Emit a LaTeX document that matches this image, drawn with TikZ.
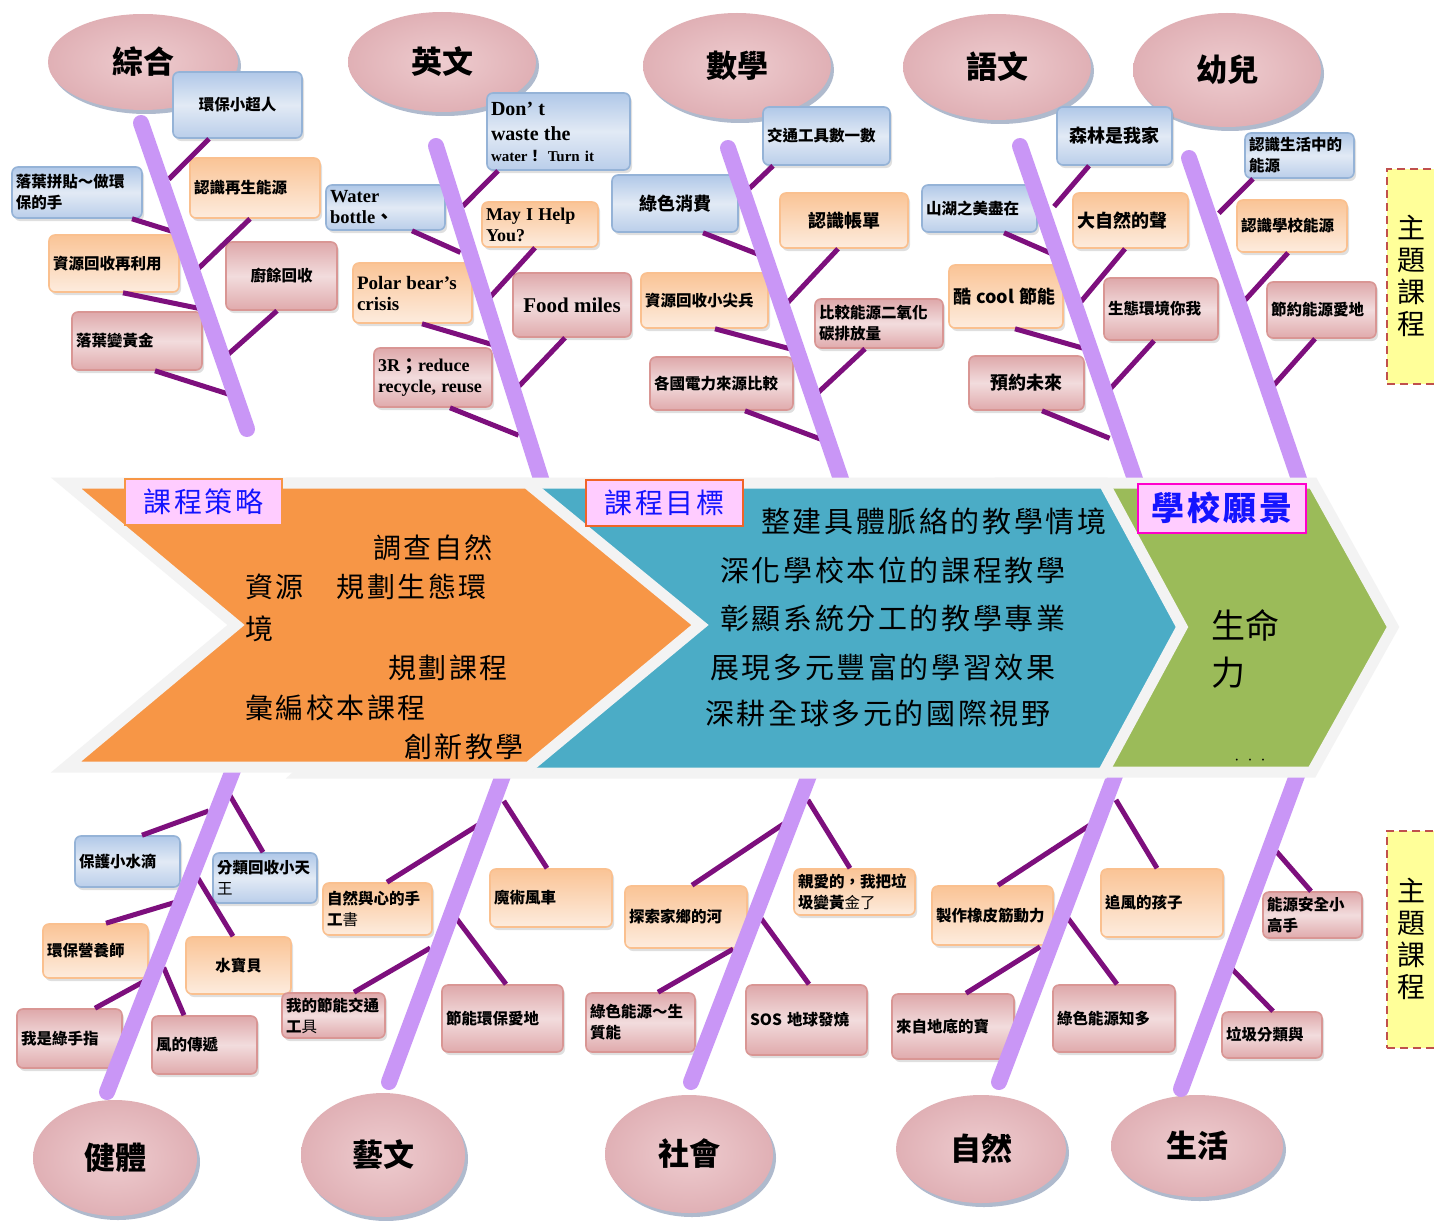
\documentclass[tikz,border=0pt]{standalone}
\usepackage{fontspec}
\setmainfont{Noto Sans CJK TC}
\newfontfamily\cjk{Noto Sans CJK TC}
\newfontfamily\cjkls[LetterSpace=9]{Noto Sans CJK TC}
\newfontfamily\lat{Liberation Serif}
\usetikzlibrary{shapes.geometric,shadows}
\definecolor{bonec}{RGB}{201,150,246}
\definecolor{connc}{RGB}{125,15,125}
\definecolor{ellc1}{RGB}{238,204,207}
\definecolor{ellc2}{RGB}{224,176,181}
\definecolor{shadc}{RGB}{110,130,165}
\definecolor{bborder}{RGB}{149,179,215}
\definecolor{btop}{RGB}{176,200,232}
\definecolor{bmid}{RGB}{226,234,245}
\definecolor{bbot}{RGB}{186,206,234}
\definecolor{oborder}{RGB}{250,192,143}
\definecolor{otop}{RGB}{250,196,150}
\definecolor{obot}{RGB}{253,236,222}
\definecolor{pborder}{RGB}{217,150,148}
\definecolor{ptop}{RGB}{222,168,170}
\definecolor{pmid}{RGB}{242,220,221}
\definecolor{pbot}{RGB}{224,170,172}
\definecolor{chor}{RGB}{247,150,70}
\definecolor{chbl}{RGB}{75,172,198}
\definecolor{chgr}{RGB}{155,187,89}
\definecolor{chbd}{RGB}{243,243,243}
\definecolor{labpink}{RGB}{255,204,255}
\definecolor{labblue}{RGB}{20,20,255}
\definecolor{labor}{RGB}{247,150,70}
\definecolor{labor2}{RGB}{240,100,40}
\definecolor{labmag}{RGB}{255,0,204}
\definecolor{yel}{RGB}{255,255,153}
\definecolor{dashred}{RGB}{192,80,77}

\newcommand\tbx[8]{%
  \pgfmathsetmacro\bxw{#5-#3}\pgfmathsetmacro\bxh{#6-#4}\pgfmathsetmacro\bxt{#5-#3-8}%
  \pgfmathsetmacro\bxx{(#3+#5)/2}\pgfmathsetmacro\bxy{(#4+#6)/2}%
  \node[#1, minimum width=\bxw pt, minimum height=\bxh pt, text width=\bxt pt, align=#7] (#2) at (\bxx,\bxy) {#8};}
\newcommand\conx[5]{\draw[conn] (#1.#2 -| #3,0) -- (#4,#5) coordinate (#1e);}

\begin{document}
\begin{tikzpicture}[x=1pt,y=-1pt,
  cat/.style={ellipse, inner sep=0pt, inner color=ellc1, outer color=ellc2,
    drop shadow={shadow xshift=3pt, shadow yshift=-4pt, fill=shadc, opacity=0.55},
    font=\cjk\bfseries\fontsize{31}{32}\selectfont},
  boxbase/.style={rectangle, rounded corners=6pt, line width=1.6pt, inner sep=3pt,
    font=\cjk\bfseries\fontsize{15.5}{21}\selectfont,
    drop shadow={shadow xshift=2pt, shadow yshift=-3pt, opacity=0.25}},
  bluebox/.style={boxbase, draw=bborder, top color=btop, bottom color=bbot, middle color=bmid},
  orangebox/.style={boxbase, draw=oborder, top color=otop, bottom color=obot},
  pinkbox/.style={boxbase, draw=pborder, top color=ptop, bottom color=pbot, middle color=pmid},
  conn/.style={draw=connc, line width=5pt, shorten >=-6pt},
  bone/.style={draw=bonec, line width=16pt, line cap=round},
  chev/.style={draw=chbd, line width=11pt, line join=miter,
    drop shadow={shadow xshift=3pt, shadow yshift=-4pt, opacity=0.18}},
  bigtxt/.style={anchor=west, inner sep=0pt, font=\cjkls\fontsize{28}{30}\selectfont},
  bigtxtb/.style={anchor=west, inner sep=0pt, font=\cjkls\fontsize{29}{30}\selectfont},
  lab/.style={fill=labpink, line width=2pt, text=labblue, inner sep=0pt,
    font=\cjkls\fontsize{28}{30}\selectfont},
  dbox/.style={fill=yel, draw=dashred, line width=2pt, dash pattern=on 8pt off 5pt, anchor=north west, inner sep=0pt},
  vtxt/.style={align=center, inner sep=0pt, font=\cjk\fontsize{28}{32}\selectfont}
]
\fill[white] (0,0) rectangle (1434,1220);
\useasboundingbox (0,0) rectangle (1434,1220);

% ---------- category ellipses ----------
\node[cat, minimum width=190pt, minimum height=96pt]  (e1) at (143,62)  {綜合};
\node[cat, minimum width=188pt, minimum height=100pt] (e2) at (442,62)  {英文};
\node[cat, minimum width=188pt, minimum height=106pt] (e3) at (737,66)  {數學};
\node[cat, minimum width=188pt, minimum height=106pt] (e4) at (997,67)  {語文};
\node[cat, minimum width=188pt, minimum height=114pt] (e5) at (1227,70) {幼兒};
\node[cat, minimum width=164pt, minimum height=116pt] (e6) at (115,1158) {健體};
\node[cat, minimum width=164pt, minimum height=124pt] (e7) at (383,1155) {藝文};
\node[cat, minimum width=168pt, minimum height=118pt] (e8) at (689,1154) {社會};
\node[cat, minimum width=170pt, minimum height=108pt] (e9) at (981,1149) {自然};
\node[cat, minimum width=172pt, minimum height=102pt] (e10) at (1197,1146) {生活};

% ---------- boxes: 綜合 ----------
\tbx{bluebox}{a1}{173}{72}{302}{138}{center}{環保小超人}
\tbx{bluebox}{a2}{12}{167}{142}{218}{left}{落葉拼貼～做環\\保的手}
\tbx{orangebox}{a3}{190}{158}{320}{218}{left}{認識再生能源}
\tbx{orangebox}{a4}{49}{235}{179}{292}{left}{資源回收再利用}
\tbx{pinkbox}{a5}{226}{242}{337}{310}{center}{廚餘回收}
\tbx{pinkbox}{a6}{72}{312}{202}{370}{left}{落葉變黃金}
% ---------- 英文 ----------
\tbx{bluebox}{b1}{487}{93}{630}{170}{left}{\lat\fontsize{20}{25}\selectfont Don’ t\\waste the\\\fontsize{15}{20}\selectfont water{\cjk ！} Turn it}
\tbx{bluebox}{b2}{326}{185}{445}{230}{left}{\lat\fontsize{18.5}{20}\selectfont Water\\bottle{\cjk 、}}
\tbx{orangebox}{b3}{482}{202}{598}{247}{left}{\lat\fontsize{18}{20}\selectfont May I Help\\You?}
\tbx{orangebox}{b4}{353}{263}{472}{323}{left}{\lat\fontsize{19}{22}\selectfont Polar bear’s\\crisis}
\tbx{pinkbox}{b5}{513}{273}{631}{337}{center}{\lat\fontsize{21}{22}\selectfont Food miles}
\tbx{pinkbox}{b6}{374}{348}{492}{407}{left}{\lat\fontsize{18}{22}\selectfont 3R{\cjk ；}reduce\\recycle, reuse}
% ---------- 數學 ----------
\tbx{bluebox}{c1}{763}{107}{890}{165}{left}{交通工具數一數}
\tbx{bluebox}{c2}{612}{175}{738}{232}{center}{\fontsize{18}{21}\selectfont 綠色消費}
\tbx{orangebox}{c3}{780}{193}{908}{248}{center}{\fontsize{18}{21}\selectfont 認識帳單}
\tbx{orangebox}{c4}{641}{273}{768}{328}{left}{資源回收小尖兵}
\tbx{pinkbox}{c5}{815}{299}{943}{348}{left}{比較能源二氧化\\碳排放量}
\tbx{pinkbox}{c6}{650}{357}{793}{410}{left}{各國電力來源比較}
% ---------- 語文 ----------
\tbx{bluebox}{d1}{1057}{107}{1172}{165}{center}{\fontsize{18}{21}\selectfont 森林是我家}
\tbx{bluebox}{d2}{922}{185}{1037}{232}{left}{山湖之美盡在}
\tbx{orangebox}{d3}{1073}{193}{1188}{248}{left}{\fontsize{18}{21}\selectfont 大自然的聲}
\tbx{orangebox}{d4}{949}{265}{1063}{328}{left}{\fontsize{18}{21}\selectfont 酷 cool 節能}
\tbx{pinkbox}{d5}{1104}{278}{1218}{340}{left}{生態環境你我}
\tbx{pinkbox}{d6}{969}{356}{1084}{410}{center}{\fontsize{18}{21}\selectfont 預約未來}
% ---------- 幼兒 ----------
\tbx{bluebox}{f1}{1245}{133}{1354}{178}{left}{認識生活中的\\能源}
\tbx{orangebox}{f2}{1237}{200}{1347}{252}{left}{認識學校能源}
\tbx{pinkbox}{f3}{1267}{282}{1376}{338}{left}{節約能源愛地}
% ---------- 健體 ----------
\tbx{bluebox}{g1}{75}{836}{180}{887}{left}{保護小水滴}
\tbx{bluebox}{g2}{213}{853}{317}{903}{left}{分類回收小天\\{\mdseries 王}}
\tbx{orangebox}{g3}{43}{924}{148}{978}{left}{環保營養師}
\tbx{orangebox}{g4}{186}{937}{291}{994}{center}{水寶貝}
\tbx{pinkbox}{g5}{17}{1009}{122}{1068}{left}{我是綠手指}
\tbx{pinkbox}{g6}{152}{1016}{257}{1074}{left}{風的傳遞}
% ---------- 藝文 ----------
\tbx{orangebox}{h1}{323}{883}{432}{935}{left}{自然與心的手\\工{\mdseries 書}}
\tbx{orangebox}{h2}{490}{869}{612}{927}{left}{魔術風車}
\tbx{pinkbox}{h3}{282}{993}{385}{1038}{left}{我的節能交通\\工{\mdseries 具}}
\tbx{pinkbox}{h4}{442}{985}{563}{1052}{left}{節能環保愛地}
% ---------- 社會 ----------
\tbx{orangebox}{i1}{625}{886}{747}{948}{left}{探索家鄉的河}
\tbx{orangebox}{i2}{794}{869}{915}{915}{left}{親愛的，我把垃\\圾變黃{\mdseries 金了}}
\tbx{pinkbox}{i3}{586}{993}{695}{1052}{left}{綠色能源～生\\質能}
\tbx{pinkbox}{i4}{746}{985}{867}{1055}{left}{SOS 地球發燒}
% ---------- 自然 ----------
\tbx{orangebox}{j1}{932}{886}{1053}{945}{left}{製作橡皮筋動力}
\tbx{orangebox}{j2}{1101}{869}{1223}{937}{left}{追風的孩子}
\tbx{pinkbox}{j3}{892}{994}{1014}{1059}{left}{來自地底的寶}
\tbx{pinkbox}{j4}{1053}{985}{1175}{1052}{left}{綠色能源知多}
% ---------- 生活 ----------
\tbx{pinkbox}{k1}{1263}{892}{1362}{938}{left}{能源安全小\\高手}
\tbx{pinkbox}{k2}{1222}{1012}{1322}{1058}{left}{垃圾分類與}

% ---------- connectors ----------
\conx{a1}{south}{209}{173}{175}
\conx{a2}{south}{132}{168}{230}
\conx{a3}{south}{250}{202}{265}
\conx{a4}{south}{123}{197}{308}
\conx{a5}{south}{277}{233}{350}
\conx{a6}{south}{155}{225}{393}
\conx{b1}{south}{498}{467}{202}
\conx{b2}{south}{412}{455}{250}
\conx{b3}{south}{535}{492}{295}
\conx{b4}{south}{422}{487}{343}
\conx{b5}{south}{565}{522}{383}
\conx{b6}{south}{450}{513}{433}
\conx{c1}{south}{773}{753}{185}
\conx{c2}{south}{703}{755}{253}
\conx{c3}{south}{838}{792}{298}
\conx{c4}{south}{715}{787}{348}
\conx{c5}{south}{865}{823}{388}
\conx{c6}{south}{745}{815}{437}
\conx{d1}{south}{1089}{1058}{202}
\conx{d2}{south}{1004}{1048}{252}
\conx{d3}{south}{1125}{1084}{298}
\conx{d4}{south}{1015}{1079}{347}
\conx{d5}{south}{1154}{1111}{388}
\conx{d6}{south}{1042}{1104}{436}
\conx{f1}{south}{1253}{1223}{209}
\conx{f2}{south}{1288}{1247}{298}
\conx{f3}{south}{1315}{1274}{385}
\conx{g1}{north}{142}{203}{813}
\conx{g2}{north}{263}{232}{799}
\conx{g3}{north}{106}{173}{903}
\conx{g4}{north}{233}{199}{880}
\conx{g5}{north}{95}{143}{982}
\conx{g6}{north}{184}{166}{973}
\conx{h1}{north}{387}{475}{827}
\conx{h2}{north}{547}{507}{806}
\conx{h3}{north}{354}{425}{951}
\conx{h4}{north}{506}{456}{918}
\conx{i1}{north}{692}{779}{827}
\conx{i2}{north}{850}{811}{805}
\conx{i3}{north}{658}{728}{952}
\conx{i4}{north}{809}{760}{917}
\conx{j1}{north}{998}{1087}{827}
\conx{j2}{north}{1157}{1119}{805}
\conx{j3}{north}{966}{1035}{950}
\conx{j4}{north}{1117}{1067}{917}
\conx{k1}{north}{1311}{1276}{851}
\conx{k2}{north}{1273}{1232}{969}

% ---------- bones ----------
\draw[bone] (141,123) -- (247,429);
\draw[bone] (436,146) -- (543,485);
\draw[bone] (728,148) -- (843,485);
\draw[bone] (1020,146) -- (1137,485);
\draw[bone] (1189,158) -- (1301,485);
\draw[bone] (107,1092) -- (235,765);
\draw[bone] (389,1082) -- (505,770);
\draw[bone] (691,1082) -- (811,770);
\draw[bone] (999,1082) -- (1117,770);
\draw[bone] (1181,1089) -- (1299,770);

% ---------- theme side boxes ----------
\node[dbox, minimum width=64pt, minimum height=215pt] (t1) at (1386,168) {};
\node[vtxt] (t1t) at (1411,276) {主\\題\\課\\程};
\node[dbox, minimum width=64pt, minimum height=217pt] (t2) at (1386,830) {};
\node[vtxt] (t2t) at (1411,939) {主\\題\\課\\程};

% ---------- chevrons ----------
\path[chev, fill=chgr] (1000,483) -- (1313,483) -- (1393,627) -- (1312,772) -- (1000,772) -- cycle;
\path[chev, fill=chbl] (300,483) -- (1104,483) -- (1182,627) -- (1103,773) -- (300,773) -- (460,627) -- cycle;
\path[chev, fill=chor] (66,483) -- (527,483) -- (700,625) -- (529,767) -- (66,767) -- (236,625) -- cycle;

\node[lab, draw=labor, minimum width=157pt, minimum height=46pt] (L1) at (203.5,502) {課程策略};
\node[lab, draw=labor2, minimum width=157pt, minimum height=46pt] (L2) at (664.5,503) {課程目標};
\node[lab, draw=labmag, minimum width=168pt, minimum height=49pt, font=\cjkls\bfseries\fontsize{33}{35}\selectfont] (L3) at (1222,508) {學校願景};

\node[bigtxt] (o1) at (373,548) {調查自然};
\node[bigtxt] (o2) at (245,587) {資源　規劃生態環};
\node[bigtxt] (o3) at (245,629) {境};
\node[bigtxt] (o4) at (388,668) {規劃課程};
\node[bigtxt] (o5) at (245,708) {彙編校本課程};
\node[bigtxt] (o6) at (404,747) {創新教學};

\node[bigtxtb] (u1) at (761,522) {整建具體脈絡的教學情境};
\node[bigtxtb] (u2) at (720,570) {深化學校本位的課程教學};
\node[bigtxtb] (u3) at (720,618) {彰顯系統分工的教學專業};
\node[bigtxtb] (u4) at (710,667) {展現多元豐富的學習效果};
\node[bigtxtb] (u5) at (705,713) {深耕全球多元的國際視野};

\node[anchor=west, inner sep=0pt, font=\cjk\fontsize{34}{36}\selectfont] (gr1) at (1211,625) {生命};
\node[anchor=west, inner sep=0pt, font=\cjk\fontsize{34}{36}\selectfont] (gr2) at (1211,673) {力};
\node[inner sep=0pt, font=\cjk\fontsize{9}{10}\selectfont] (gr3) at (1250,761) {‧\ \ ‧\ \ ‧};
\end{tikzpicture}
\end{document}
